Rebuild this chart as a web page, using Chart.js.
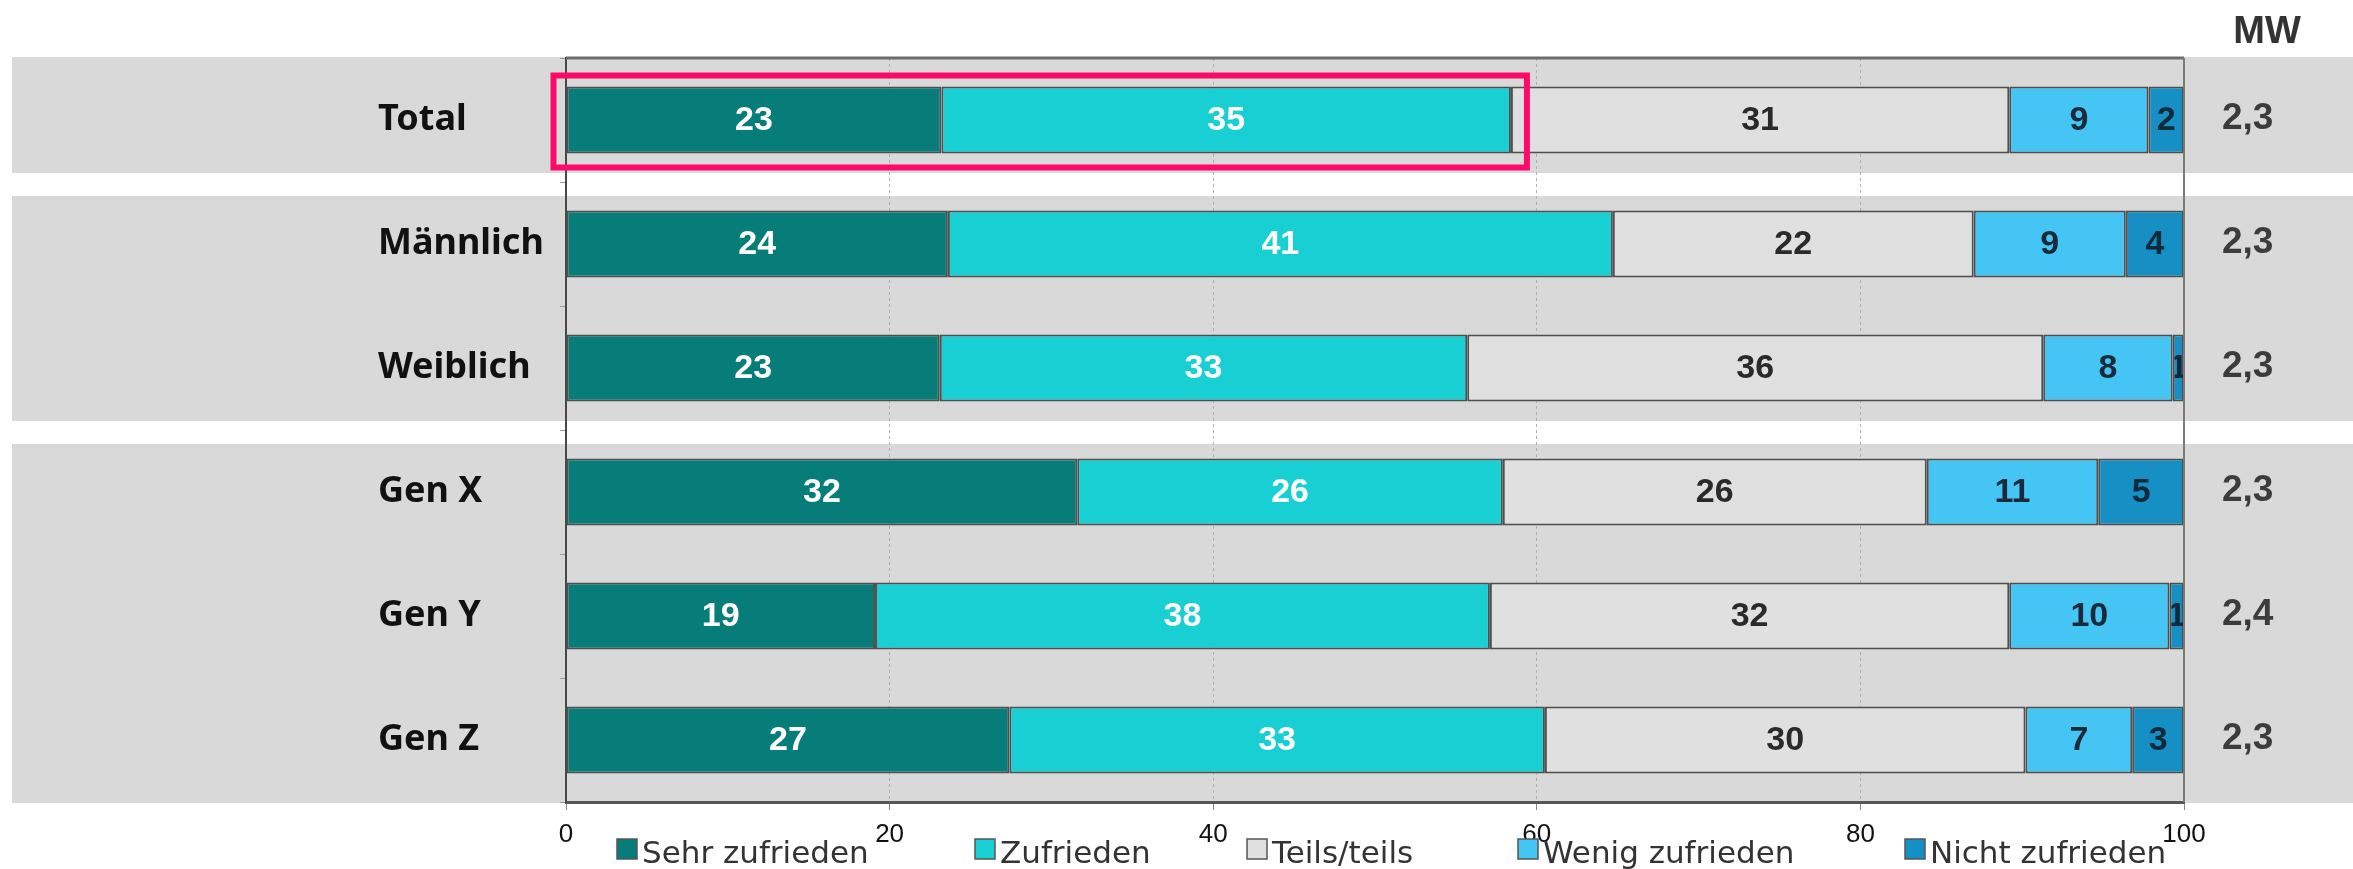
<!DOCTYPE html>
<html>
<head>
<meta charset="utf-8">
<script src="https://cdn.jsdelivr.net/npm/chart.js@4/dist/chart.umd.min.js"></script>
<style>
  html, body { margin: 0; background: #fff; }
  #wrap { width: 2353px; height: 869px; position: relative; }
</style>
</head>
<body>
<div id="wrap"><canvas id="chart"></canvas></div>
<script>
const categories = ['Total', 'Männlich', 'Weiblich', 'Gen X', 'Gen Y', 'Gen Z'];
const sehrZufrieden = [23.2, 23.6, 23.1, 31.6, 19.1, 27.4];
const zufrieden = [35.2, 41.1, 32.6, 26.3, 38.0, 33.1];
const teilsTeils = [30.8, 22.3, 35.6, 26.2, 32.1, 29.7];
const wenigZufrieden = [8.6, 9.4, 8.0, 10.6, 9.9, 6.6];
const nichtZufrieden = [2.2, 3.6, 0.7, 5.3, 0.9, 3.2];
const mittelwert = [2.3, 2.3, 2.3, 2.3, 2.4, 2.3];
const xTicks = [0, 20, 40, 60, 80, 100];

const seriesNames = ['Sehr zufrieden', 'Zufrieden', 'Teils/teils', 'Wenig zufrieden', 'Nicht zufrieden'];
const seriesValues = [sehrZufrieden, zufrieden, teilsTeils, wenigZufrieden, nichtZufrieden];
const seriesColors = ['#077d7a', '#18cfd4', '#dfe0df', '#45c5f4', '#1690c4'];
const valueColors = ['#ffffff', '#ffffff', '#2a2a2a', '#1b2a3a', '#0c2a3c'];

// rows grouped on the same grey band
const bandGroups = [[0, 0], [1, 2], [3, 5]];
// left edge of each legend swatch
const legendX = [617, 975, 1247, 1518, 1905];

Chart.defaults.animation = false;
Chart.defaults.font.family = '"Liberation Sans", Arial, sans-serif';

const backgroundBands = {
  id: 'backgroundBands',
  beforeDraw(chart) {
    const { ctx, chartArea, scales: { y } } = chart;
    const n = categories.length;
    ctx.save();
    ctx.fillStyle = '#d9d9d9';
    bandGroups.forEach(([a, b]) => {
      const top = a === 0 ? chartArea.top - 1 : y.getPixelForValue(a) - 48;
      const bottom = b === n - 1 ? chartArea.bottom + 1 : y.getPixelForValue(b) + 53;
      ctx.fillRect(12, top, chart.width - 12, bottom - top);
    });
    ctx.restore();
  },
};

const overlays = {
  id: 'overlays',
  afterDatasetsDraw(chart) {
    const { ctx, chartArea, scales: { y } } = chart;

    // plot frame: top and right
    ctx.save();
    ctx.strokeStyle = '#6e6e6e';
    ctx.lineWidth = 3;
    ctx.beginPath();
    ctx.moveTo(chartArea.left, chartArea.top);
    ctx.lineTo(chartArea.right, chartArea.top);
    ctx.stroke();
    ctx.lineWidth = 2;
    ctx.strokeStyle = '#7a7a7a';
    ctx.beginPath();
    ctx.moveTo(chartArea.right, chartArea.top);
    ctx.lineTo(chartArea.right, chartArea.bottom);
    ctx.stroke();
    ctx.restore();

    // values inside the segments
    chart.data.datasets.forEach((ds, i) => {
      chart.getDatasetMeta(i).data.forEach((bar, j) => {
        const left = Math.min(bar.base, bar.x);
        const right = Math.max(bar.base, bar.x);
        const top = bar.y - bar.height / 2;
        ctx.save();
        ctx.beginPath();
        ctx.rect(left + 2, top, right - left - 3, bar.height);
        ctx.clip();
        ctx.fillStyle = valueColors[i];
        ctx.font = 'bold 34px "Liberation Sans", Arial, sans-serif';
        ctx.textAlign = 'center';
        ctx.textBaseline = 'middle';
        ctx.fillText(String(Math.round(ds.data[j])), (left + right) / 2, bar.y + 1);
        ctx.restore();
      });
    });

    // highlight around Total, first two segments
    const first = chart.getDatasetMeta(0).data[0];
    const second = chart.getDatasetMeta(1).data[0];
    const bTop = first.y - first.height / 2;
    const bBottom = first.y + first.height / 2;
    ctx.save();
    ctx.strokeStyle = '#ff0a6a';
    ctx.lineWidth = 6;
    ctx.strokeRect(first.base - 13, bTop - 11, second.x - first.base + 29, bBottom - bTop + 25);
    ctx.restore();

    // MW column
    ctx.save();
    ctx.fillStyle = '#333';
    ctx.font = 'bold 38px "Liberation Sans", Arial, sans-serif';
    ctx.textAlign = 'center';
    ctx.textBaseline = 'alphabetic';
    ctx.fillText('MW', 2267, 43);
    ctx.fillStyle = '#3c3c3c';
    ctx.font = 'bold 37px "Liberation Sans", Arial, sans-serif';
    ctx.textAlign = 'left';
    ctx.textBaseline = 'middle';
    mittelwert.forEach((v, j) => {
      ctx.fillText(v.toFixed(1).replace('.', ','), 2222, y.getPixelForValue(j) - 1);
    });
    ctx.restore();

    // legend
    ctx.save();
    ctx.font = '31px "DejaVu Sans", sans-serif';
    ctx.textBaseline = 'alphabetic';
    ctx.textAlign = 'left';
    chart.data.datasets.forEach((ds, i) => {
      const x = legendX[i];
      ctx.fillStyle = ds.backgroundColor;
      ctx.fillRect(x, 839, 20, 20);
      ctx.strokeStyle = '#555';
      ctx.lineWidth = 1.5;
      ctx.strokeRect(x, 839, 20, 20);
      ctx.fillStyle = '#333';
      ctx.fillText(ds.label, x + 25, 863);
    });
    ctx.restore();
  },
};

new Chart(document.getElementById('chart'), {
  type: 'bar',
  data: {
    labels: categories,
    datasets: seriesNames.map((name, i) => ({
      label: name,
      data: seriesValues[i],
      backgroundColor: seriesColors[i],
      borderColor: '#4f4f4f',
      borderWidth: 2,
      borderSkipped: false,
      categoryPercentage: 1,
      barPercentage: 0.54,
    })),
  },
  options: {
    indexAxis: 'y',
    responsive: true,
    maintainAspectRatio: false,
    animation: false,
    layout: { padding: { left: 378, top: 58, right: 169, bottom: 0 } },
    plugins: { legend: { display: false }, tooltip: { enabled: false }, title: { display: false } },
    scales: {
      x: {
        stacked: true,
        min: 0,
        max: 100,
        afterBuildTicks(scale) { scale.ticks = xTicks.map((v) => ({ value: v })); },
        ticks: { color: '#111', font: { size: 26 }, padding: 9 },
        grid: { color: '#b0b0b0', lineWidth: 1, tickLength: 8, tickColor: '#888' },
        border: { color: '#575757', width: 3, dash: [3, 3] },
        afterFit(scale) { scale.height = 67; },
      },
      y: {
        stacked: true,
        grid: { drawOnChartArea: false, drawTicks: true, tickLength: 6, color: '#999', offset: true },
        border: { color: '#474747', width: 2 },
        ticks: { crossAlign: 'far', color: '#111', font: { family: '"Noto Sans", sans-serif', size: 36, weight: 'bold' } },
        afterFit(scale) { scale.width = 188; },
      },
    },
  },
  plugins: [backgroundBands, overlays],
});
</script>
</body>
</html>
